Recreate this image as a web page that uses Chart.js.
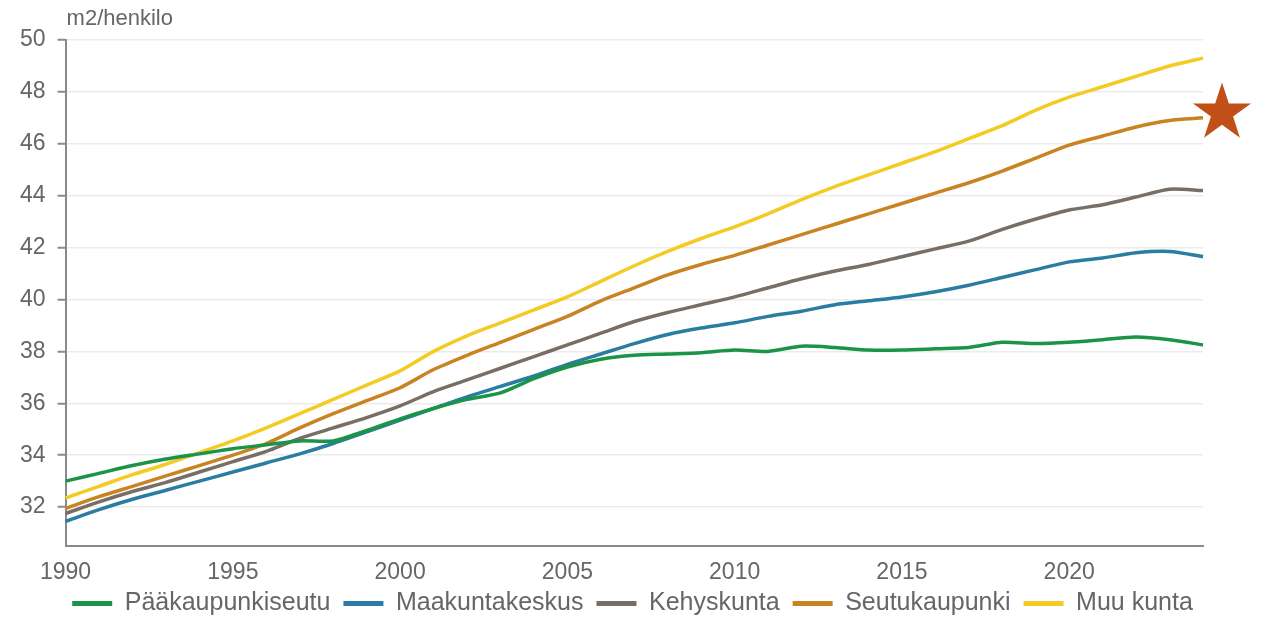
<!DOCTYPE html>
<html>
<head>
<meta charset="utf-8">
<script src="https://cdn.jsdelivr.net/npm/chart.js@4"></script>
<style>
  html, body { margin: 0; padding: 0; background: #ffffff; }
  #wrap { position: relative; width: 1268px; height: 617px; }
</style>
</head>
<body>
<div id="wrap"><canvas id="chart" width="1268" height="617"></canvas></div>
<script>
// ── Data ──────────────────────────────────────────────────
var years = [];
for (var y = 1990; y <= 2024; y++) years.push(y);

var seriesNames = ["Pääkaupunkiseutu", "Maakuntakeskus", "Kehyskunta", "Seutukaupunki", "Muu kunta"];

var paakaupunkiseutu = [33.0, 33.3, 33.6, 33.85, 34.05, 34.25, 34.4, 34.55, 34.55, 34.95,
  35.4, 35.8, 36.15, 36.4, 36.95, 37.4, 37.7, 37.85, 37.9, 37.95,
  38.05, 38.0, 38.2, 38.15, 38.05, 38.05, 38.1, 38.15, 38.35, 38.3,
  38.35, 38.45, 38.55, 38.45, 38.25];

var maakuntakeskus = [31.45, 31.9, 32.3, 32.65, 33.0, 33.35, 33.7, 34.05, 34.45, 34.9,
  35.35, 35.8, 36.25, 36.65, 37.05, 37.5, 37.9, 38.3, 38.65, 38.9,
  39.1, 39.35, 39.55, 39.8, 39.95, 40.1, 40.3, 40.55, 40.85, 41.15,
  41.45, 41.6, 41.8, 41.85, 41.65];

var kehyskunta = [31.75, 32.2, 32.6, 32.95, 33.35, 33.75, 34.15, 34.65, 35.05, 35.45,
  35.9, 36.45, 36.9, 37.35, 37.8, 38.25, 38.7, 39.15, 39.5, 39.8,
  40.1, 40.45, 40.8, 41.1, 41.35, 41.65, 41.95, 42.25, 42.7, 43.1,
  43.45, 43.65, 43.95, 44.25, 44.2];

var seutukaupunki = [31.95, 32.4, 32.8, 33.2, 33.6, 34.0, 34.45, 35.05, 35.6, 36.1,
  36.6, 37.3, 37.85, 38.35, 38.85, 39.35, 39.95, 40.45, 40.95, 41.35,
  41.7, 42.1, 42.5, 42.9, 43.3, 43.7, 44.1, 44.5, 44.95, 45.45,
  45.95, 46.3, 46.65, 46.9, 47.0];

var muuKunta = [32.35, 32.8, 33.25, 33.65, 34.1, 34.55, 35.05, 35.6, 36.15, 36.7,
  37.25, 38.0, 38.6, 39.1, 39.6, 40.1, 40.7, 41.3, 41.85, 42.35,
  42.8, 43.3, 43.85, 44.35, 44.8, 45.25, 45.7, 46.2, 46.7, 47.3,
  47.8, 48.2, 48.6, 49.0, 49.3];

var colors = ["#1c9447", "#2a7da1", "#776f66", "#c98322", "#f3cb22"];
var unitLabel = "m2/henkilo";

var FONT = "'Liberation Sans', Arial, sans-serif";
var TEXT = "#666666";

// ── Decorations: unit label + star, legend nudge ──────────
var extras = {
  id: "extras",
  afterLayout: function(chart) {
    // legend sits closer to the axis labels than chart.js spacing allows,
    // and is centred on the canvas rather than the padded box
    var lg = chart.legend;
    if (lg) {
      lg.top -= 21;
      lg.bottom -= 21;
      lg.left += 27;
      lg.right += 27;
    }
  },
  afterDraw: function(chart) {
    var ctx = chart.ctx, area = chart.chartArea;
    ctx.save();
    ctx.fillStyle = TEXT;
    ctx.font = "22px " + FONT;
    ctx.textBaseline = "middle";
    ctx.textAlign = "left";
    ctx.fillText(unitLabel, area.left + 1, 19);

    // star
    var cx = area.right + 19, cy = 113, R = 30.5, r = R * 0.382;
    ctx.beginPath();
    for (var i = 0; i < 10; i++) {
      var rad = i % 2 === 0 ? R : r;
      var a = -Math.PI / 2 + i * Math.PI / 5;
      var px = cx + rad * Math.cos(a), py = cy + rad * Math.sin(a);
      if (i === 0) ctx.moveTo(px, py); else ctx.lineTo(px, py);
    }
    ctx.closePath();
    ctx.fillStyle = "#c24f17";
    ctx.fill();
    ctx.restore();
  }
};

var allSeries = [paakaupunkiseutu, maakuntakeskus, kehyskunta, seutukaupunki, muuKunta];

new Chart(document.getElementById("chart"), {
  type: "line",
  data: {
    labels: years,
    datasets: allSeries.map(function(vals, i) {
      return {
        label: seriesNames[i],
        data: vals,
        borderColor: colors[i],
        backgroundColor: colors[i],
        borderWidth: 3.5,
        pointRadius: 0,
        tension: 0.25,
        fill: false
      };
    })
  },
  options: {
    responsive: false,
    animation: false,
    layout: { padding: { top: 40, right: 65, left: 8, bottom: -30 } },
    plugins: {
      tooltip: { enabled: false },
      legend: {
        position: "bottom",
        labels: {
          font: { family: FONT, size: 25, lineHeight: 1 },
          color: TEXT,
          boxWidth: 40,
          boxHeight: 5,
          padding: 13,
          generateLabels: function(chart) {
            return chart.data.datasets.map(function(ds, i) {
              return {
                text: ds.label,
                fillStyle: ds.borderColor,
                strokeStyle: ds.borderColor,
                lineWidth: 0,
                fontColor: TEXT,
                datasetIndex: i,
                hidden: false
              };
            });
          }
        }
      }
    },
    scales: {
      x: {
        type: "category",
        offset: false,
        grid: { display: false, drawTicks: false },
        border: { color: "#8a8a8a", width: 2 },
        ticks: {
          autoSkip: false,
          maxRotation: 0,
          padding: 15,
          color: TEXT,
          font: { family: FONT, size: 23, lineHeight: 1 },
          callback: function(val, idx) {
            var yr = years[idx];
            return yr % 5 === 0 ? String(yr) : null;
          }
        }
      },
      y: {
        min: 30.5,
        max: 50,
        grid: { color: "#ebebeb", lineWidth: 1.5, tickLength: 8, tickColor: "#8a8a8a", tickWidth: 2 },
        border: { color: "#8a8a8a", width: 2 },
        ticks: {
          stepSize: 2,
          includeBounds: false,
          padding: 12,
          color: TEXT,
          font: { family: FONT, size: 23 },
          callback: function(v) { return v % 2 === 0 ? v : null; }
        },
        afterBuildTicks: function(axis) {
          axis.ticks = axis.ticks.filter(function(t) { return t.value % 2 === 0; });
        }
      }
    }
  },
  plugins: [extras]
});
</script>
</body>
</html>
